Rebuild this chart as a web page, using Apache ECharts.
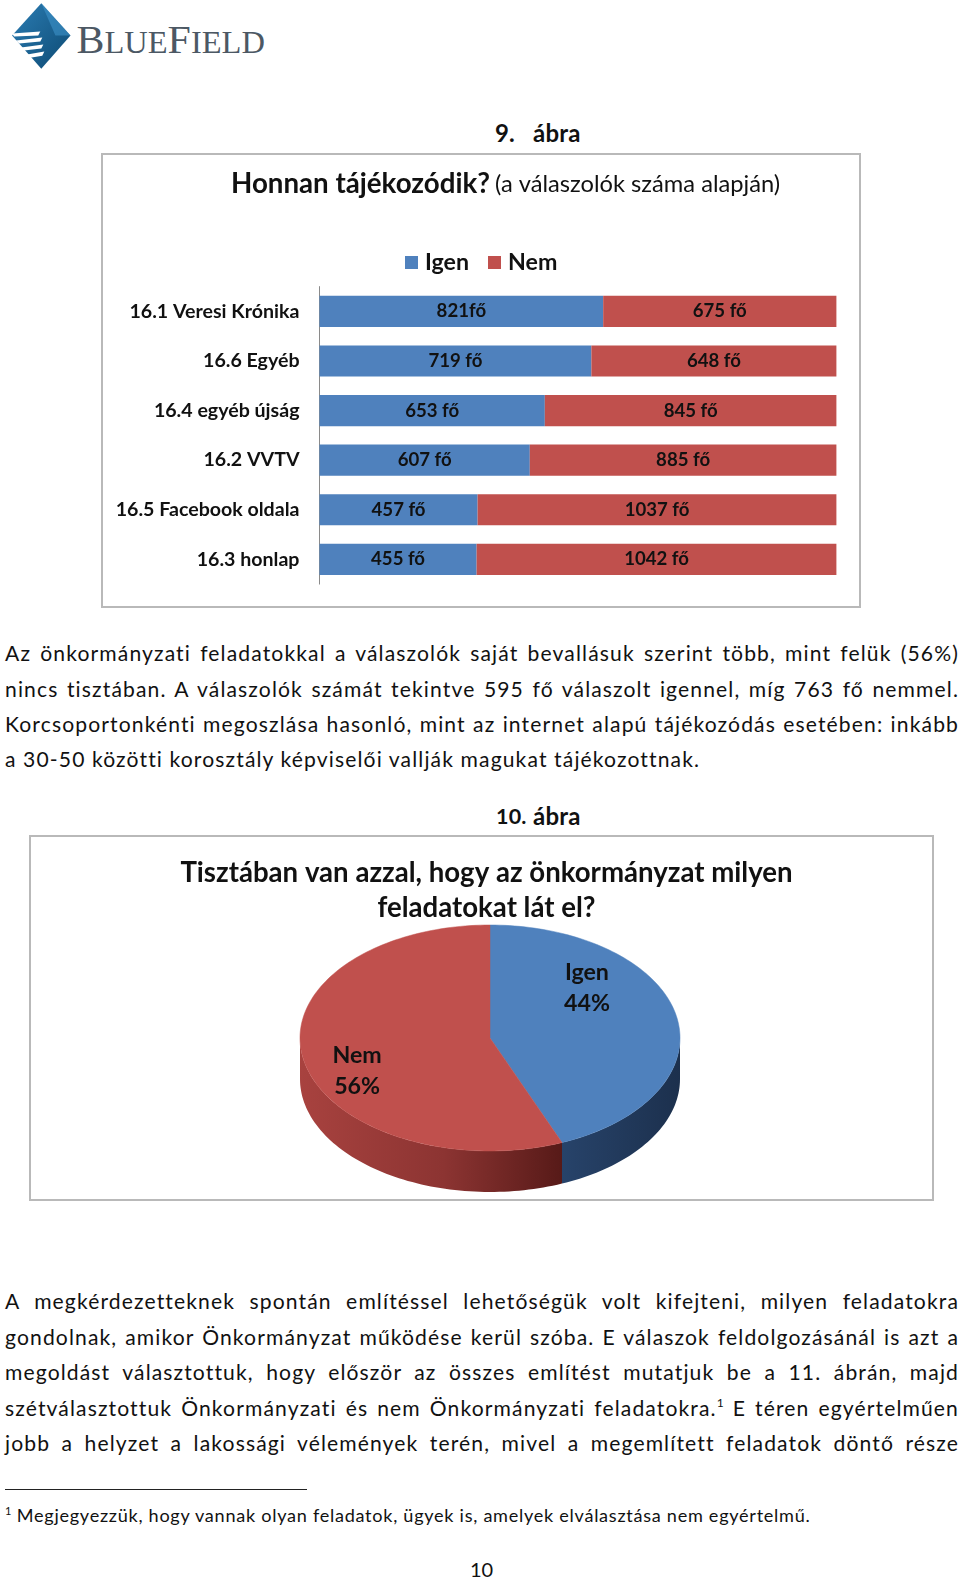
<!DOCTYPE html>
<html><head><meta charset="utf-8">
<script src="https://cdn.jsdelivr.net/npm/echarts@6/dist/echarts.min.js"></script>
<style>
html,body{margin:0;padding:0;background:#fff;overflow:hidden}
body{width:960px;height:1580px;position:relative;font-family:Lato,"Open Sans",sans-serif;color:#111}
.abs{position:absolute}
.para{position:absolute;left:5px;width:954px;font-size:21.1px;letter-spacing:1.12px}
.para .j{text-align:justify;text-align-last:justify}
.para .l{text-align:left}
.cap{position:absolute;font-weight:bold;font-size:24px;line-height:28px;letter-spacing:0.2px}
.box{position:absolute;border:2px solid #b9b9b9;box-sizing:border-box}
sup{font-size:12px;vertical-align:9px;line-height:0;letter-spacing:0}
</style>
</head><body>

<svg class="abs" style="left:0;top:0" width="282" height="76" viewBox="0 0 280 75">
  <defs>
    <linearGradient id="dg" x1="0" y1="0" x2="1" y2="1">
      <stop offset="0" stop-color="#2b7db4"/>
      <stop offset="1" stop-color="#0d4a73"/>
    </linearGradient>
  </defs>
  <polygon points="41,3 70,35 41,68 12,35" fill="url(#dg)"/>
  <polygon points="41,3 70,35 55,35" fill="#3d93c9" opacity="0.6"/>
  <polygon points="12,33 40,31 38,35 14,36" fill="#fff"/>
  <polygon points="16,40 42,37 40,41 19,43" fill="#fff"/>
  <polygon points="21,47 43,44 41,48 24,50" fill="#fff"/>
  <polygon points="27,54 44,51 42,55 30,57" fill="#fff"/>
  <text x="76" y="52" fill="#4c5864" font-family="'Liberation Serif','DejaVu Serif',serif" textLength="187" lengthAdjust="spacingAndGlyphs"><tspan font-size="40">B</tspan><tspan font-size="31">LUE</tspan><tspan font-size="40">F</tspan><tspan font-size="31">IELD</tspan></text>
</svg>

<div class="cap" style="left:495px;top:119px">9.</div>
<div class="cap" style="left:533px;top:119px">ábra</div>
<div class="box" style="left:101px;top:153px;width:760px;height:455px"><div id="c1" style="width:756px;height:451px"></div></div>

<div class="para" style="top:635.4px;line-height:35.27px">
<div class="j">Az önkormányzati feladatokkal a válaszolók saját bevallásuk szerint több, mint felük (56%)</div>
<div class="j">nincs tisztában. A válaszolók számát tekintve 595 fő válaszolt igennel, míg 763 fő nemmel.</div>
<div class="j">Korcsoportonkénti megoszlása hasonló, mint az internet alapú tájékozódás esetében: inkább</div>
<div class="l">a 30-50 közötti korosztály képviselői vallják magukat tájékozottnak.</div>
</div>

<div class="cap" style="left:496px;top:802px;font-size:21.5px">10.</div>
<div class="cap" style="left:533px;top:802px">ábra</div>
<div class="box" style="left:29px;top:835px;width:905px;height:366px"><div id="c2" style="width:901px;height:362px"></div></div>

<div class="para" style="top:1283px;line-height:35.5px">
<div class="j">A megkérdezetteknek spontán említéssel lehetőségük volt kifejteni, milyen feladatokra</div>
<div class="j">gondolnak, amikor Önkormányzat működése kerül szóba. E válaszok feldolgozásánál is azt a</div>
<div class="j">megoldást választottuk, hogy először az összes említést mutatjuk be a 11. ábrán, majd</div>
<div class="j">szétválasztottuk Önkormányzati és nem Önkormányzati feladatokra.<sup>1</sup> E téren egyértelműen</div>
<div class="j">jobb a helyzet a lakossági vélemények terén, mivel a megemlített feladatok döntő része</div>
</div>

<div class="abs" style="left:5px;top:1489px;width:302px;height:1px;background:#222"></div>
<div class="abs" style="left:5px;top:1502.5px;font-size:18.1px;line-height:24px;letter-spacing:0.72px"><sup style="font-size:11px;vertical-align:7px">1</sup> Megjegyezzük, hogy vannak olyan feladatok, ügyek is, amelyek elválasztása nem egyértelmű.</div>
<div class="abs" style="left:0;width:963px;top:1557px;text-align:center;font-size:20px;line-height:24px">10</div>

<script>
// ---- Chart 1 data ----
const categories = ['16.1 Veresi Krónika', '16.6 Egyéb', '16.4 egyéb újság', '16.2 VVTV', '16.5 Facebook oldala', '16.3 honlap'];
const igenValues = [821, 719, 653, 607, 457, 455];
const nemValues = [675, 648, 845, 885, 1037, 1042];
const seriesNames = ['Igen', 'Nem'];

// ---- Chart 2 data ----
const pieNames = ['Igen', 'Nem'];
const pieValues = [595, 763];

const BLUE = '#4F81BD', RED = '#C0504D';
const FONT = 'Lato, "Open Sans", sans-serif';

const totals = igenValues.map((v, i) => v + nemValues[i]);
const igenPct = igenValues.map((v, i) => v / totals[i] * 100);
const nemPct = nemValues.map((v, i) => v / totals[i] * 100);

const c1 = echarts.init(document.getElementById('c1'));
const barLabel = (raw) => ({
  show: true, position: 'inside', color: '#111',
  fontFamily: FONT, fontWeight: 'bold', fontSize: 18.6,
  formatter: p => raw[p.dataIndex] + ((raw === igenValues && p.dataIndex === 0) ? 'fő' : ' fő')
});
c1.setOption({
  animation: false,
  title: {
    left: 123, top: 10,
    text: '{b|Honnan tájékozódik?} {n|(a válaszolók száma alapján)}',
    textStyle: { rich: {
      b: { fontFamily: FONT, fontWeight: 'bold', fontSize: 27.7, color: '#111' },
      n: { fontFamily: FONT, fontWeight: 'normal', fontSize: 23.7, color: '#111' }
    } }
  },
  legend: {
    left: 297, top: 91, icon: 'rect', itemWidth: 13, itemHeight: 13, itemGap: 19,
    data: seriesNames,
    textStyle: { fontFamily: FONT, fontWeight: 'bold', fontSize: 23.2, color: '#111', padding: [0, 0, 0, 2] }
  },
  grid: { left: 216.5, right: 22.6, top: 131.6, height: 297.5, containLabel: false },
  xAxis: { type: 'value', min: 0, max: 100, show: false },
  yAxis: {
    type: 'category', data: categories, inverse: true,
    axisLine: { show: true, lineStyle: { color: '#8a8a8a', width: 1 } },
    axisTick: { show: false },
    axisLabel: { margin: 20, color: '#111', fontFamily: FONT, fontWeight: 'bold', fontSize: 19.6 }
  },
  series: [
    { name: seriesNames[0], type: 'bar', stack: 'all', barWidth: 31.2, data: igenPct, itemStyle: { color: BLUE }, label: barLabel(igenValues) },
    { name: seriesNames[1], type: 'bar', stack: 'all', barWidth: 31.2, data: nemPct, itemStyle: { color: RED }, label: barLabel(nemValues) }
  ]
});

// ---- Chart 2: 3D-look pie via custom series ----
const pieTotal = pieValues.reduce((a, b) => a + b, 0);
const pieStarts = pieValues.map((v, i) => pieValues.slice(0, i).reduce((a, b) => a + b, 0));
const topColors = [BLUE, RED];
const sideFills = [
  new echarts.graphic.LinearGradient(0, 0, 1, 0, [{ offset: 0, color: '#27436a' }, { offset: 1, color: '#1c304d' }]),
  new echarts.graphic.LinearGradient(0, 0, 1, 0, [{ offset: 0, color: '#a8423f' }, { offset: 0.55, color: '#8c3432' }, { offset: 1, color: '#571a18' }])
];
const labelPlace = [[0.52, -39], [0.713, 17.9]];

const c2 = echarts.init(document.getElementById('c2'));
c2.setOption({
  animation: false,
  title: {
    left: 450.5, top: 13,
    text: 'Tisztában van azzal, hogy az önkormányzat milyen\nfeladatokat lát el?',
    textAlign: 'center',
    textStyle: { fontFamily: FONT, fontWeight: 'bold', fontSize: 27.6, lineHeight: 35.3, color: '#111' }
  },
  series: [{
    type: 'custom', coordinateSystem: 'none',
    data: pieValues.map((v, i) => ({ name: pieNames[i], value: v })),
    renderItem: function (params, api) {
      const i = params.dataIndex;
      const v = api.value(0);
      const cx = 459, cy = 201, rx = 190, ry = 113, depth = 41;
      const a0 = 90 - 360 * pieStarts[i] / pieTotal;
      const a1 = a0 - 360 * v / pieTotal;
      const pt = (deg, dy) => { const r = deg * Math.PI / 180; return [cx + rx * Math.cos(r), cy - ry * Math.sin(r) + dy]; };
      const arc = (from, to, dy) => {
        const n = Math.max(2, Math.ceil(Math.abs(to - from) / 1.5));
        const out = [];
        for (let k = 0; k <= n; k++) out.push(pt(from + (to - from) * k / n, dy));
        return out;
      };
      const children = [];
      [[-180, 0], [-540, -360]].forEach(([lo, hi]) => {
        const s = Math.max(a1, lo), e = Math.min(a0, hi);
        if (e > s) {
          children.push({ type: 'polygon', shape: { points: arc(e, s, 0).concat(arc(s, e, depth)) }, style: { fill: sideFills[i] } });
        }
      });
      children.push({ type: 'polygon', shape: { points: [[cx, cy]].concat(arc(a0, a1, 0)) }, style: { fill: topColors[i], stroke: topColors[i], lineWidth: 0.5 } });
      const mid = (a0 + a1) / 2 * Math.PI / 180;
      const [k, dy] = labelPlace[i];
      children.push({
        type: 'text', z2: 10,
        style: {
          text: pieNames[i] + '\n' + Math.round(v / pieTotal * 100) + '%',
          x: cx + k * rx * Math.cos(mid), y: cy - k * ry * Math.sin(mid) + dy,
          align: 'center', verticalAlign: 'middle',
          fontFamily: FONT, fontWeight: 'bold', fontSize: 23.2, lineHeight: 31, fill: '#111'
        }
      });
      return { type: 'group', children };
    }
  }]
});
</script>
</body></html>
